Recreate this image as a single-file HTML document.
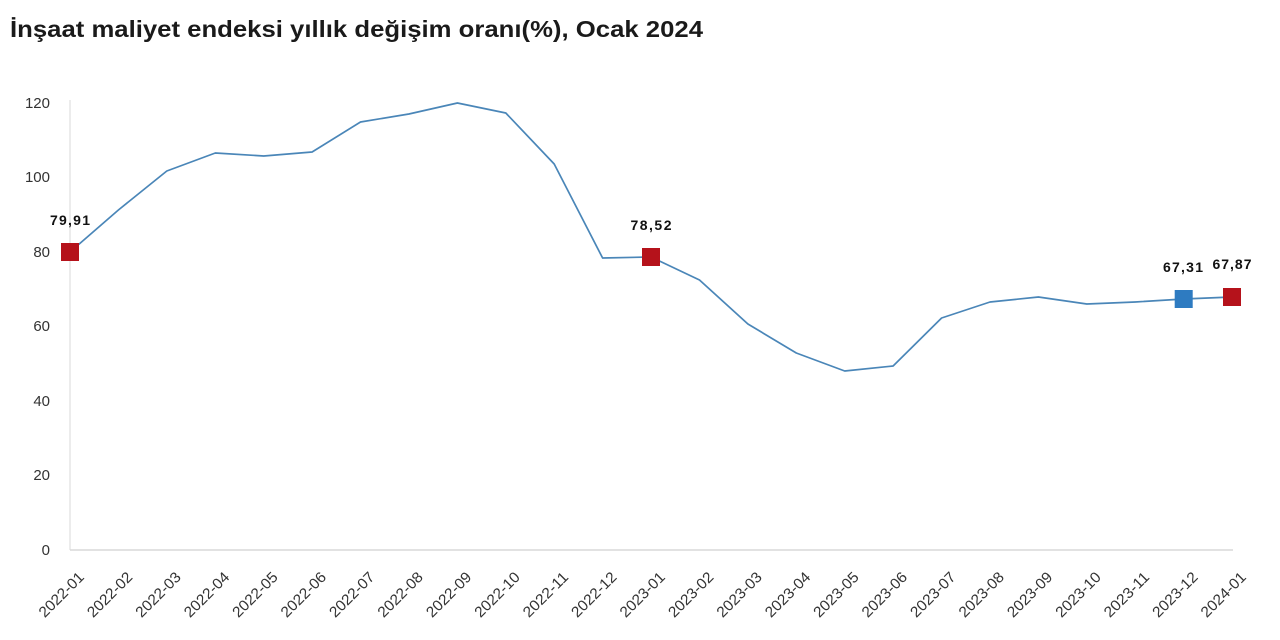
<!DOCTYPE html>
<html><head><meta charset="utf-8"><style>
html,body{margin:0;padding:0;background:#fff;}
svg{display:block;}
</style></head><body>
<svg width="1280" height="640" viewBox="0 0 1280 640" xmlns="http://www.w3.org/2000/svg">
<rect width="1280" height="640" fill="#fff"/>
<text x="10" y="37" font-family="Liberation Sans, sans-serif" font-weight="bold" font-size="23.5" fill="#1a1a1a" textLength="693" lengthAdjust="spacingAndGlyphs">İnşaat maliyet endeksi yıllık değişim oranı(%), Ocak 2024</text>
<line x1="70" y1="100" x2="70" y2="550" stroke="#d9d9d9" stroke-width="1"/>
<line x1="70" y1="550" x2="1233" y2="550" stroke="#d9d9d9" stroke-width="1.5"/>
<g font-family="Liberation Sans, sans-serif" font-size="15" fill="#333" text-anchor="end">
<text x="50" y="108">120</text>
<text x="50" y="182">100</text>
<text x="50" y="257">80</text>
<text x="50" y="331">60</text>
<text x="50" y="406">40</text>
<text x="50" y="480">20</text>
<text x="50" y="555">0</text>
</g>
<polyline fill="none" stroke="#4a86b8" stroke-width="1.7" stroke-linejoin="round" points="70,252 118.4,210 166.8,171 215.3,153 263.7,156 312.1,152 360.5,122 408.9,114 457.4,103 505.8,113 554.2,164 602.6,258 651,257 699.5,280 747.9,324 796.3,353 844.7,371 893.1,366 941.6,318 990,302 1038.4,297 1086.8,304 1135.2,302 1183.7,299 1232,297"/>
<rect x="61" y="243" width="18" height="18" fill="#b5121b"/>
<rect x="642" y="248" width="18" height="18" fill="#b5121b"/>
<rect x="1174.7" y="290" width="18" height="18" fill="#2e7bc1"/>
<rect x="1223" y="288" width="18" height="18" fill="#b5121b"/>
<g font-family="Liberation Sans, sans-serif" font-weight="bold" font-size="14" fill="#111" text-anchor="middle">
<text x="70" y="225" textLength="40" lengthAdjust="spacing">79,91</text>
<text x="651" y="230" textLength="41" lengthAdjust="spacing">78,52</text>
<text x="1183" y="272" textLength="40" lengthAdjust="spacing">67,31</text>
<text x="1232" y="269" textLength="39" lengthAdjust="spacing">67,87</text>
</g>
<g font-family="Liberation Sans, sans-serif" font-size="15" fill="#333" text-anchor="end">
<text transform="translate(85,578) rotate(-45)" textLength="57" lengthAdjust="spacingAndGlyphs">2022-01</text>
<text transform="translate(133.4,578) rotate(-45)" textLength="57" lengthAdjust="spacingAndGlyphs">2022-02</text>
<text transform="translate(181.8,578) rotate(-45)" textLength="57" lengthAdjust="spacingAndGlyphs">2022-03</text>
<text transform="translate(230.3,578) rotate(-45)" textLength="57" lengthAdjust="spacingAndGlyphs">2022-04</text>
<text transform="translate(278.7,578) rotate(-45)" textLength="57" lengthAdjust="spacingAndGlyphs">2022-05</text>
<text transform="translate(327.1,578) rotate(-45)" textLength="57" lengthAdjust="spacingAndGlyphs">2022-06</text>
<text transform="translate(375.5,578) rotate(-45)" textLength="57" lengthAdjust="spacingAndGlyphs">2022-07</text>
<text transform="translate(423.9,578) rotate(-45)" textLength="57" lengthAdjust="spacingAndGlyphs">2022-08</text>
<text transform="translate(472.4,578) rotate(-45)" textLength="57" lengthAdjust="spacingAndGlyphs">2022-09</text>
<text transform="translate(520.8,578) rotate(-45)" textLength="57" lengthAdjust="spacingAndGlyphs">2022-10</text>
<text transform="translate(569.2,578) rotate(-45)" textLength="57" lengthAdjust="spacingAndGlyphs">2022-11</text>
<text transform="translate(617.6,578) rotate(-45)" textLength="57" lengthAdjust="spacingAndGlyphs">2022-12</text>
<text transform="translate(666,578) rotate(-45)" textLength="57" lengthAdjust="spacingAndGlyphs">2023-01</text>
<text transform="translate(714.5,578) rotate(-45)" textLength="57" lengthAdjust="spacingAndGlyphs">2023-02</text>
<text transform="translate(762.9,578) rotate(-45)" textLength="57" lengthAdjust="spacingAndGlyphs">2023-03</text>
<text transform="translate(811.3,578) rotate(-45)" textLength="57" lengthAdjust="spacingAndGlyphs">2023-04</text>
<text transform="translate(859.7,578) rotate(-45)" textLength="57" lengthAdjust="spacingAndGlyphs">2023-05</text>
<text transform="translate(908.1,578) rotate(-45)" textLength="57" lengthAdjust="spacingAndGlyphs">2023-06</text>
<text transform="translate(956.6,578) rotate(-45)" textLength="57" lengthAdjust="spacingAndGlyphs">2023-07</text>
<text transform="translate(1005,578) rotate(-45)" textLength="57" lengthAdjust="spacingAndGlyphs">2023-08</text>
<text transform="translate(1053.4,578) rotate(-45)" textLength="57" lengthAdjust="spacingAndGlyphs">2023-09</text>
<text transform="translate(1101.8,578) rotate(-45)" textLength="57" lengthAdjust="spacingAndGlyphs">2023-10</text>
<text transform="translate(1150.2,578) rotate(-45)" textLength="57" lengthAdjust="spacingAndGlyphs">2023-11</text>
<text transform="translate(1198.7,578) rotate(-45)" textLength="57" lengthAdjust="spacingAndGlyphs">2023-12</text>
<text transform="translate(1247,578) rotate(-45)" textLength="57" lengthAdjust="spacingAndGlyphs">2024-01</text>
</g>
</svg>
</body></html>
